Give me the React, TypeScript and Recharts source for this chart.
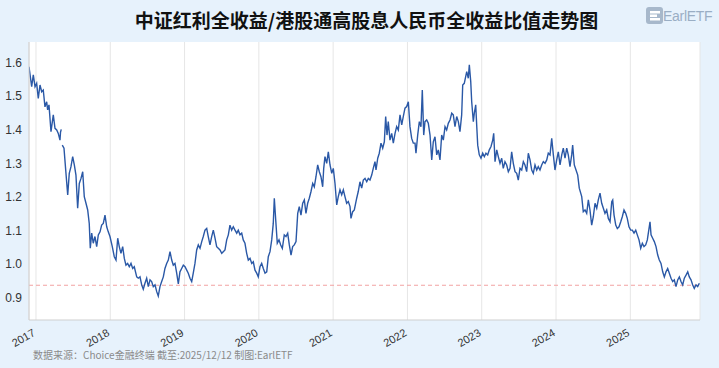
// 中证红利全收益 / 港股通高股息人民币全收益 ratio line chart

import { LineChart, Line, XAxis, YAxis, CartesianGrid, ReferenceLine } from 'recharts';

// x = year fraction
const dates = [
  2016.906, 2016.942, 2016.964, 2016.987, 2017.009, 2017.031, 2017.054, 2017.077, 2017.098, 2017.121,
  2017.144, 2017.157, 2017.175, 2017.202, 2017.233, 2017.256, 2017.279, 2017.300, 2017.323, 2017.330,
  2017.340, 2017.346, 2017.354, 2017.377, 2017.400, 2017.427, 2017.448, 2017.471, 2017.494, 2017.516,
  2017.538, 2017.561, 2017.583, 2017.606, 2017.629, 2017.650, 2017.673, 2017.696, 2017.717, 2017.731,
  2017.750, 2017.771, 2017.794, 2017.817, 2017.839, 2017.862, 2017.884, 2017.906, 2017.929, 2017.952,
  2017.973, 2017.996, 2018.027, 2018.054, 2018.077, 2018.100, 2018.121, 2018.144, 2018.167, 2018.189,
  2018.211, 2018.234, 2018.256, 2018.279, 2018.302, 2018.323, 2018.356, 2018.377, 2018.400, 2018.423,
  2018.444, 2018.467, 2018.490, 2018.512, 2018.535, 2018.557, 2018.579, 2018.602, 2018.625, 2018.646,
  2018.669, 2018.692, 2018.714, 2018.736, 2018.759, 2018.781, 2018.804, 2018.827, 2018.848, 2018.871,
  2018.894, 2018.916, 2018.938, 2018.961, 2018.983, 2019.006, 2019.029, 2019.050, 2019.073, 2019.096,
  2019.117, 2019.140, 2019.163, 2019.185, 2019.208, 2019.231, 2019.252, 2019.275, 2019.298, 2019.319,
  2019.342, 2019.365, 2019.387, 2019.410, 2019.432, 2019.454, 2019.477, 2019.500, 2019.521, 2019.544,
  2019.567, 2019.589, 2019.611, 2019.634, 2019.656, 2019.679, 2019.702, 2019.723, 2019.746, 2019.769,
  2019.790, 2019.813, 2019.836, 2019.858, 2019.881, 2019.904, 2019.925, 2019.948, 2019.971, 2019.992,
  2020.015, 2020.038, 2020.060, 2020.083, 2020.106, 2020.127, 2020.150, 2020.173, 2020.194, 2020.208,
  2020.227, 2020.248, 2020.271, 2020.294, 2020.316, 2020.342, 2020.365, 2020.388, 2020.410, 2020.433,
  2020.455, 2020.477, 2020.500, 2020.523, 2020.544, 2020.567, 2020.590, 2020.612, 2020.634, 2020.657,
  2020.679, 2020.702, 2020.725, 2020.746, 2020.769, 2020.792, 2020.814, 2020.836, 2020.859, 2020.873,
  2020.890, 2020.913, 2020.935, 2020.958, 2020.981, 2021.002, 2021.025, 2021.048, 2021.069, 2021.092,
  2021.115, 2021.137, 2021.159, 2021.182, 2021.204, 2021.227, 2021.240, 2021.263, 2021.285, 2021.317,
  2021.338, 2021.361, 2021.384, 2021.406, 2021.429, 2021.452, 2021.473, 2021.496, 2021.519, 2021.540,
  2021.563, 2021.577, 2021.600, 2021.621, 2021.644, 2021.667, 2021.689, 2021.707, 2021.725, 2021.742,
  2021.765, 2021.788, 2021.810, 2021.833, 2021.855, 2021.877, 2021.900, 2021.923, 2021.944, 2021.967,
  2021.990, 2022.012, 2022.034, 2022.057, 2022.079, 2022.102, 2022.115, 2022.138, 2022.160, 2022.182,
  2022.200, 2022.219, 2022.236, 2022.259, 2022.281, 2022.304, 2022.327, 2022.348, 2022.371, 2022.394,
  2022.415, 2022.438, 2022.461, 2022.483, 2022.506, 2022.528, 2022.550, 2022.573, 2022.596, 2022.617,
  2022.640, 2022.663, 2022.685, 2022.707, 2022.730, 2022.744, 2022.765, 2022.798, 2022.819, 2022.833,
  2022.852, 2022.865, 2022.887, 2022.900, 2022.919, 2022.932, 2022.946, 2022.967, 2022.990, 2023.013,
  2023.035, 2023.057, 2023.080, 2023.102, 2023.125, 2023.148, 2023.161, 2023.179, 2023.202, 2023.223,
  2023.246, 2023.269, 2023.290, 2023.313, 2023.336, 2023.358, 2023.381, 2023.403, 2023.425, 2023.448,
  2023.471, 2023.492, 2023.515, 2023.538, 2023.560, 2023.582, 2023.605, 2023.627, 2023.650, 2023.673,
  2023.694, 2023.717, 2023.740, 2023.761, 2023.784, 2023.807, 2023.829, 2023.852, 2023.875, 2023.896,
  2023.919, 2023.942, 2023.964, 2023.986, 2024.009, 2024.031, 2024.054, 2024.077, 2024.098, 2024.121,
  2024.144, 2024.165, 2024.188, 2024.211, 2024.224, 2024.246, 2024.269, 2024.292, 2024.313, 2024.346,
  2024.367, 2024.390, 2024.413, 2024.435, 2024.457, 2024.480, 2024.502, 2024.525, 2024.548, 2024.569,
  2024.592, 2024.615, 2024.637, 2024.659, 2024.682, 2024.704, 2024.727, 2024.750, 2024.763, 2024.781,
  2024.804, 2024.825, 2024.848, 2024.871, 2024.892, 2024.915, 2024.938, 2024.959, 2024.982, 2025.005,
  2025.027, 2025.050, 2025.073, 2025.094, 2025.117, 2025.140, 2025.162, 2025.184, 2025.207, 2025.229,
  2025.252, 2025.265, 2025.279, 2025.301, 2025.323, 2025.346, 2025.369, 2025.390, 2025.413, 2025.436,
  2025.458, 2025.480, 2025.503, 2025.525, 2025.548, 2025.571, 2025.592, 2025.615, 2025.638, 2025.660,
  2025.682, 2025.705, 2025.727, 2025.750, 2025.773, 2025.794, 2025.817, 2025.840, 2025.861, 2025.884,
  2025.907, 2025.929,
];

// ratio values (null = gap in the source data)
const ratio = [
  1.587, 1.528, 1.563, 1.528, 1.538, 1.493, 1.533, 1.513, 1.518, 1.468,
  1.483, 1.459, 1.474, 1.394, 1.444, 1.404, 1.399, 1.389, 1.369, 1.392,
  1.401, null, 1.354, 1.345, 1.280, 1.206, 1.270, 1.290, 1.320, 1.295,
  1.265, 1.166, 1.240, 1.255, 1.275, 1.201, 1.181, 1.161, 1.121, 1.047,
  1.092, 1.062, 1.082, 1.052, 1.087, 1.096, 1.116, 1.121, 1.146, 1.111,
  1.096, 1.082, 1.052, 1.022, 1.012, 1.077, 1.052, 1.032, 1.052, 1.017,
  0.997, 1.002, 0.992, 1.002, 0.987, 0.992, 0.962, 0.958, 0.962, 0.938,
  0.925, 0.943, 0.958, 0.933, 0.953, 0.948, 0.933, 0.938, 0.918, 0.905,
  0.933, 0.948, 0.962, 0.987, 1.002, 1.012, 1.037, 1.012, 0.997, 1.002,
  0.973, 0.941, 0.977, 0.987, 0.997, 0.992, 0.982, 0.973, 0.958, 0.948,
  0.973, 1.002, 1.042, 1.057, 1.047, 1.067, 1.082, 1.101, 1.106, 1.082,
  1.057, 1.082, 1.101, 1.077, 1.052, 1.047, 1.042, 1.032, 1.037, 1.042,
  1.072, 1.087, 1.116, 1.101, 1.111, 1.101, 1.092, 1.101, 1.087, 1.092,
  1.072, 1.062, 1.032, 1.012, 1.017, 1.002, 1.007, 0.982, 0.973, 0.962,
  0.992, 1.002, 0.987, 0.973, 0.977, 1.022, 1.037, 1.072, 1.121, 1.196,
  1.131, 1.062, 1.072, 1.057, 1.047, 1.087, 1.082, 1.092, 1.057, 1.027,
  1.052, 1.057, 1.067, 1.151, 1.171, 1.146, 1.181, 1.191, 1.151, 1.181,
  1.196, 1.216, 1.240, 1.230, 1.260, 1.295, 1.275, 1.260, 1.230, 1.285,
  1.320, 1.300, 1.334, 1.295, 1.270, 1.285, 1.240, 1.176, 1.201, 1.221,
  1.206, 1.221, 1.201, 1.181, 1.186, 1.171, 1.136, 1.156, 1.161, 1.196,
  1.216, 1.245, 1.226, 1.250, 1.255, 1.245, 1.255, 1.250, 1.265, 1.285,
  1.305, 1.280, 1.315, 1.330, 1.360, 1.345, 1.364, 1.439, 1.384, 1.424,
  1.369, 1.389, 1.360, 1.389, 1.409, 1.399, 1.444, 1.414, 1.439, 1.464,
  1.469, 1.483, 1.409, 1.374, 1.360, 1.360, 1.330, 1.384, 1.424, 1.409,
  1.518, 1.384, 1.424, 1.429, 1.419, 1.384, 1.310, 1.364, 1.379, 1.325,
  1.340, 1.310, 1.384, 1.369, 1.409, 1.399, 1.419, 1.429, 1.449, 1.444,
  1.409, 1.439, 1.424, 1.394, 1.444, 1.533, 1.538, 1.573, 1.553, 1.593,
  1.543, 1.483, 1.424, 1.449, 1.474, 1.414, 1.354, 1.325, 1.315, 1.330,
  1.320, 1.330, 1.325, 1.340, 1.350, 1.369, 1.389, 1.305, 1.340, 1.320,
  1.300, 1.315, 1.285, 1.305, 1.295, 1.275, 1.285, 1.334, 1.300, 1.275,
  1.270, 1.250, 1.285, 1.280, 1.305, 1.295, 1.275, 1.330, 1.310, 1.280,
  1.270, 1.295, 1.280, 1.290, 1.280, 1.295, 1.305, 1.300, 1.310, 1.330,
  1.325, 1.374, 1.325, 1.280, 1.310, 1.334, 1.295, 1.325, 1.345, 1.315,
  1.345, 1.325, 1.290, 1.325, 1.354, 1.295, 1.280, 1.265, 1.226, 1.201,
  1.156, 1.161, 1.151, 1.191, 1.161, 1.116, 1.141, 1.181, 1.166, 1.191,
  1.211, 1.181, 1.166, 1.151, 1.161, 1.136, 1.126, 1.186, 1.191, 1.146,
  1.116, 1.106, 1.111, 1.126, 1.141, 1.161, 1.151, 1.136, 1.111, 1.101,
  1.101, 1.092, 1.101, 1.087, 1.072, 1.047, 1.062, 1.052, 1.057, 1.072,
  1.106, 1.126, 1.087, 1.077, 1.067, 1.052, 1.027, 1.012, 1.002, 0.977,
  0.962, 0.977, 0.987, 0.973, 0.958, 0.948, 0.953, 0.933, 0.953, 0.962,
  0.948, 0.938, 0.958, 0.967, 0.977, 0.962, 0.953, 0.938, 0.928, 0.938,
  0.933, 0.943,
];

const yearTicks = [2017, 2018, 2019, 2020, 2021, 2022, 2023, 2024, 2025];
const valueTicks = [0.9, 1.0, 1.1, 1.2, 1.3, 1.4, 1.5, 1.6];
const refLevel = 0.937;

const data = dates.map((t, i) => ({ t, v: ratio[i] }));

const YearTick = (props: any) => {
  const { x, y, payload } = props;
  const ty = y + 7;
  return (
    <text
      x={x}
      y={ty}
      textAnchor="end"
      transform={`rotate(-30, ${x}, ${ty})`}
      fontSize={11}
      fill="#333"
      fontFamily="'Liberation Sans', Arial, sans-serif"
    >
      {payload.value}
    </text>
  );
};

export default function App() {
  return (
    <div
      style={{
        position: 'absolute',
        left: 0,
        top: 0,
        width: 719,
        height: 368,
        background: '#e7f2fc',
        overflow: 'hidden',
      }}
    >
      <div
        style={{
          position: 'absolute',
          top: 8,
          left: 7,
          width: 719,
          textAlign: 'center',
          fontSize: 19,
          lineHeight: '24px',
          fontWeight: 700,
          color: '#111',
          fontFamily: "'Noto Sans CJK SC', sans-serif",
        }}
      >
        中证红利全收益/港股通高股息人民币全收益比值走势图
      </div>

      {/* logo */}
      <svg style={{ position: 'absolute', left: 640, top: 0 }} width={79} height={34}>
        <rect x={6} y={7} width={17} height={17} rx={3} fill="#a7b8cb" />
        <rect x={10} y={11} width={10} height={2.5} fill="#fff" />
        <rect x={10} y={14.5} width={7} height={2.5} fill="#fff" />
        <rect x={10} y={18} width={10} height={2.5} fill="#fff" />
        <text x={23} y={21} fontSize={14} fill="#9aaec4" fontFamily="'Liberation Sans', Arial, sans-serif" letterSpacing={-0.3}>
          EarlETF
        </text>
      </svg>

      <LineChart
        width={719}
        height={368}
        data={data}
        margin={{ top: 42, right: 19, bottom: 18, left: 0 }}
        style={{ position: 'absolute', left: 0, top: 0 }}
      >
        <CartesianGrid horizontal={false} stroke="#e6e6e6" fill="#ffffff" fillOpacity={1} />
        <XAxis
          dataKey="t"
          type="number"
          domain={[2016.906, 2025.938]}
          ticks={yearTicks}
          allowDataOverflow
          height={30}
          stroke="#cfcfcf"
          tickLine={false}
          tick={<YearTick />}
        />
        <YAxis
          type="number"
          domain={[0.8336, 1.661]}
          ticks={valueTicks}
          allowDataOverflow
          width={29}
          stroke="#cfcfcf"
          tickLine={false}
          tickSize={5}
          tickMargin={2}
          tickFormatter={(v: number) => v.toFixed(1)}
          tick={{ fontSize: 12, fill: '#333', fontFamily: "'Liberation Sans', Arial, sans-serif" }}
        />
        <ReferenceLine y={refLevel} stroke="#f2a3a3" strokeDasharray="4 3" strokeWidth={1} />
        <Line
          type="linear"
          dataKey="v"
          stroke="#2a58a6"
          strokeWidth={1.4}
          dot={false}
          isAnimationActive={false}
        />
      </LineChart>

      <div
        style={{
          position: 'absolute',
          left: 33,
          top: 349,
          fontSize: 10,
          lineHeight: '12px',
          color: '#8a8a8a',
          fontFamily: "'Noto Sans CJK SC', sans-serif",
          whiteSpace: 'nowrap',
        }}
      >
        数据来源：Choice金融终端 截至:2025/12/12 制图:EarlETF
      </div>
    </div>
  );
}
